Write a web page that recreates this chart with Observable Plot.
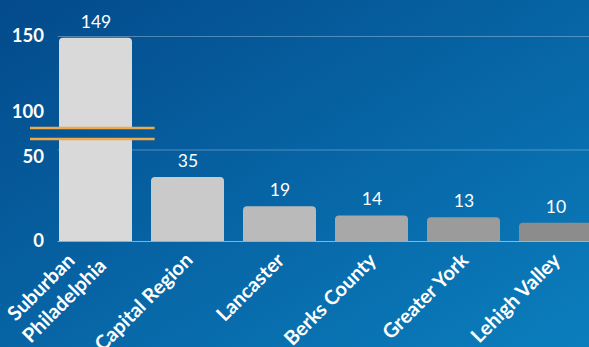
<!DOCTYPE html>
<html><head><meta charset="utf-8">
<script src="https://cdn.jsdelivr.net/npm/d3@7"></script>
<script src="https://cdn.jsdelivr.net/npm/@observablehq/plot@0.6"></script>
<style>
html,body{margin:0;padding:0;overflow:hidden;background:#0763a3;}
#chart svg{display:block;}
</style></head><body><div id="chart"></div>
<script>
// ---- data ----
const categories = ["Suburban\nPhiladelphia", "Capital Region", "Lancaster", "Berks County", "Greater York", "Lehigh Valley"];
const values = [149, 35, 19, 14, 13, 10];
const yTickValues = [0, 50, 100, 150];
const yTickLabels = ["0", "50", "100", "150"];
const gridValues = [50, 150];
const axisBreak = [56, 100];

// ---- styling ----
const barColors = ["#d9d9d9", "#cacaca", "#bababa", "#a8a8a8", "#9b9b9b", "#8c8c8c"];
const W = 589, H = 347;
const gapUnits = 6;
function disp(v) {
  const [a, b] = axisBreak;
  if (v <= a) return v;
  if (v >= b) return v - (b - a) + gapUnits;
  return a + (v - a) / (b - a) * gapUnits;
}
const tickNudge = {0: 0, 50: -4.1, 100: 8.5, 150: 0};
const data = categories.map((name, i) => ({name, value: values[i], d: disp(values[i]), color: barColors[i]}));
const ticks = yTickValues.map((v, i) => ({v, label: yTickLabels[i]}));

const plot = Plot.plot({
  width: W, height: H,
  marginTop: 36, marginBottom: 106, marginLeft: 57.7, marginRight: 0,
  x: {type: "band", domain: categories, range: [57.7, 592.1], paddingInner: 0.21, paddingOuter: 0, axis: null},
  y: {domain: [0, disp(150)], axis: null},
  color: {type: "identity"},
  style: {fontFamily: "Lato, 'Open Sans', sans-serif", background: "transparent", color: "white", overflow: "hidden"},
  marks: [
    Plot.ruleY(gridValues, {y: v => disp(v), stroke: "white", strokeOpacity: 0.3}),
    Plot.barY(data, {x: "name", y: "d", fill: "color", rx: 4}),
    Plot.barY(data, {x: "name", y: d => Math.min(d.d, 3), fill: "color"}),
    Plot.barY([data[0]], {x: "name", y1: disp(axisBreak[0]), y2: disp(axisBreak[1]), fill: "url(#bgGrad)", insetLeft: -29, insetRight: -22.6}),
    Plot.tickY(axisBreak, {x: () => categories[0], y: v => disp(v), stroke: "#f2a94a", strokeWidth: 2.5, insetLeft: -29, insetRight: -22.6}),
    Plot.ruleY([0], {stroke: "white", strokeOpacity: 0.5}),
    Plot.text(data, {x: "name", y: "d", text: d => String(d.value), dy: -16, lineAnchor: "middle", fill: "white", fontSize: 17.5}),
    Plot.text(data, {x: "name", text: "name", frameAnchor: "bottom", dx: 0, dy: 14, rotate: -45, textAnchor: "start", lineAnchor: "middle", lineHeight: 1.3, fill: "white", fontSize: 20, fontWeight: "bold"}),
    Plot.text(ticks, {y: t => disp(t.v) + tickNudge[t.v], text: "label", frameAnchor: "left", dx: -14.2, textAnchor: "end", lineAnchor: "middle", fill: "white", fontSize: 18.5, fontWeight: "bold"})
  ]
});

// background gradient (CSS "to bottom right" equivalent)
const diag = Math.hypot(W, H);
const dir = [H / diag, W / diag];
const L = 2 * W * H / diag;
const cx = W / 2, cy = H / 2;
const svg = d3.select(plot);
svg.insert("defs", ":first-child").html(
  `<linearGradient id="bgGrad" gradientUnits="userSpaceOnUse" x1="${cx - L/2*dir[0]}" y1="${cy - L/2*dir[1]}" x2="${cx + L/2*dir[0]}" y2="${cy + L/2*dir[1]}">
     <stop offset="0" stop-color="#034a8b"/><stop offset="1" stop-color="#0b7ebd"/>
   </linearGradient>`);
svg.insert("rect", "defs + *").attr("width", W).attr("height", H).attr("fill", "url(#bgGrad)");

document.getElementById("chart").appendChild(plot);

// left-align wrapped lines while keeping block end at anchor
svg.selectAll('g[text-anchor="start"] text').each(function() {
  const w = this.getBBox().width;
  const spans = this.querySelectorAll("tspan");
  const up = spans.length > 1 ? -5 : 0;
  if (spans.length > 1) spans[0].setAttribute("dx", 5);
  const t = this.getAttribute("transform") || "";
  this.setAttribute("transform", `${t} translate(${-w},${up})`);
});
</script></body></html>
